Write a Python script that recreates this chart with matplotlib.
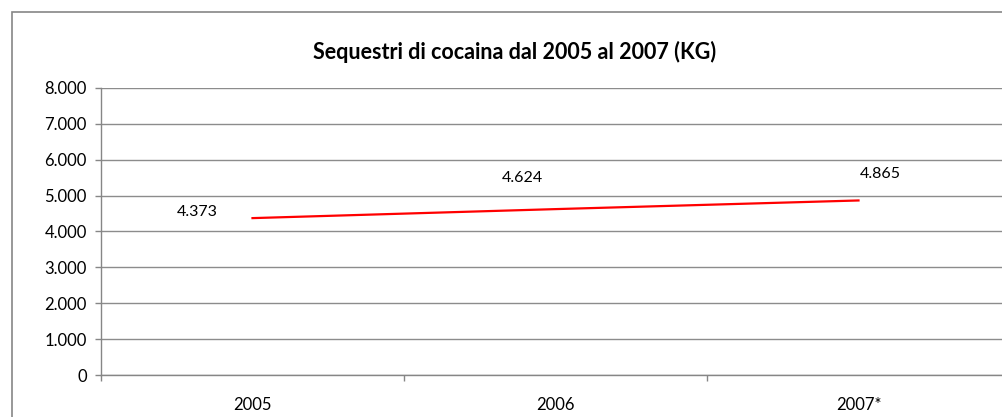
import matplotlib.pyplot as plt
from matplotlib.ticker import FuncFormatter

# data
anni = ["2005", "2006", "2007*"]
sequestri = [4373, 4624, 4865]
etichette = ["4.373", "4.624", "4.865"]
# label offsets in pixels (dx, dy), as placed in the original chart
offset = [(-55, 6), (-33, 31), (22, 26)]

plt.rcParams['font.family'] = ['Lato', 'DejaVu Sans']

W, H = 1003, 417
fig = plt.figure(figsize=(W / 100, H / 100), dpi=100)

# outer chart border (right and bottom edges are cut off)
fig.patches.append(plt.Rectangle((12 / W, -0.5), 2, 1.5 - 12 / H, transform=fig.transFigure,
                                 fill=False, edgecolor='#868686', linewidth=1.2, zorder=0))

left, right, top, bottom = 101, 1010, 88, 375
ax = fig.add_axes([left / W, 1 - bottom / H, (right - left) / W, (bottom - top) / H])

x = range(len(anni))
ax.plot(x, sequestri, color='#ff0000', linewidth=1.6, zorder=3)
for i, (v, t) in enumerate(zip(sequestri, etichette)):
    ax.annotate(t, (i, v), xytext=offset[i], textcoords='offset pixels',
                ha='center', va='center', fontsize=11.5, color='#000000')

ax.set_xlim(-0.5, len(anni) - 0.5)
ax.set_ylim(0, 8000)
ax.set_yticks(range(0, 8001, 1000))
ax.yaxis.set_major_formatter(FuncFormatter(lambda v, p: f"{int(v):,}".replace(",", ".")))
ax.set_xticks(list(x))
ax.set_xticklabels(anni)
ax.set_xticks([i - 0.5 for i in range(len(anni) + 1)], minor=True)
ax.tick_params(axis='x', which='major', length=0, pad=16, labelsize=12)
ax.tick_params(axis='x', which='minor', length=4.3, color='#868686', width=1)
ax.tick_params(axis='y', length=4.3, color='#868686', width=1, labelsize=12, pad=6)

ax.grid(axis='y', color='#8c8c8c', linewidth=1)
ax.set_axisbelow(True)
for s in ['top', 'right']:
    ax.spines[s].set_visible(False)
for s in ['left', 'bottom']:
    ax.spines[s].set_color('#868686')
    ax.spines[s].set_linewidth(1)

fig.text(515 / W, 1 - 52 / H, "Sequestri di cocaina dal 2005 al 2007 (KG)",
         ha='center', va='center', fontsize=15.5, fontweight='bold')

fig.savefig("out.png", dpi=100)
